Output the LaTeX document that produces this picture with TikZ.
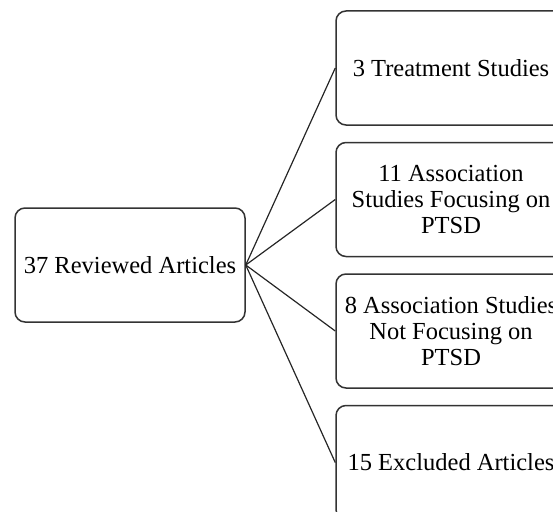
\documentclass[tikz,border=0pt]{standalone}
\usepackage{fontspec}
\setmainfont{Liberation Serif}
\begin{document}
\begin{tikzpicture}[x=1pt,y=-1pt,
    box/.style={draw=black!80, line width=1.5pt, rounded corners=10pt,
      minimum width=230pt, minimum height=114pt, inner sep=0pt,
      align=center, font=\fontsize{24.5}{26}\selectfont},
    link/.style={draw=black!85, line width=1.2pt}]
        \clip (0,0) rectangle (553,511);

        \node [box] (reviewed) at (130,265) {37 Reviewed Articles};

        \node [box] (treatment) at (451,68) {3 Treatment Studies};
        \node [box] (ptsd) at (451,199.5) {11 Association\\Studies Focusing on\\PTSD};
        \node [box] (noptsd) at (451,331) {8 Association Studies\\Not Focusing on\\PTSD};
        \node [box] (excluded) at (451,462.5) {15 Excluded Articles};

        \draw [link] (reviewed.east) -- (treatment.west);
        \draw [link] (reviewed.east) -- (ptsd.west);
        \draw [link] (reviewed.east) -- (noptsd.west);
        \draw [link] (reviewed.east) -- (excluded.west);
\end{tikzpicture}
\end{document}
